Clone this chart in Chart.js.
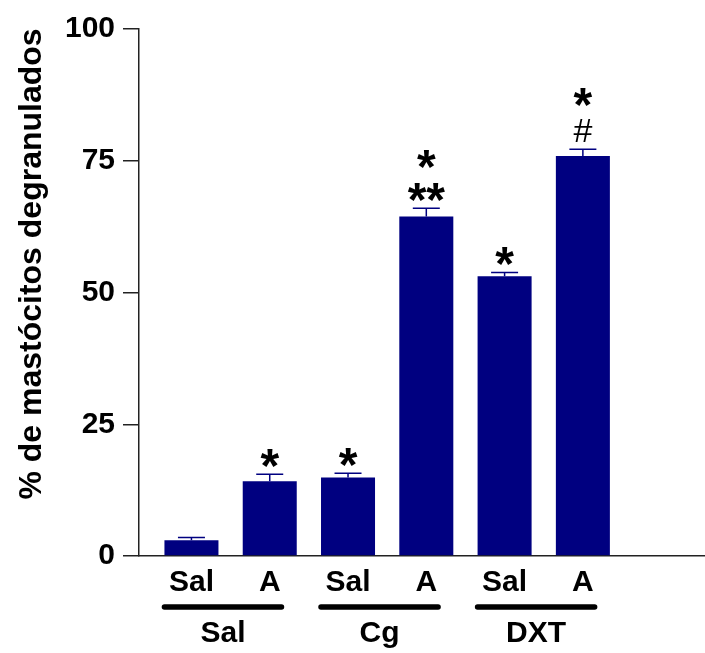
<!DOCTYPE html>
<html>
<head>
<meta charset="utf-8">
<script src="https://cdn.jsdelivr.net/npm/chart.js@4"></script>
<style>
  html, body { margin: 0; padding: 0; background: #fff; }
  canvas { display: block; }
</style>
</head>
<body>
<canvas id="c" width="705" height="653"></canvas>
<script>
// Treatment per bar, grouped under the pretreatment
const categories = ['Sal', 'A', 'Sal', 'A', 'Sal', 'A'];
const groups = ['Sal', 'Cg', 'DXT'];
const groupMembers = [[0, 1], [2, 3], [4, 5]];
// Mean % of degranulated mast cells and SEM
const means = [3.0, 14.2, 14.9, 64.4, 53.1, 75.9];
const sem = [0.5, 1.3, 0.8, 1.6, 0.7, 1.3];
// Significance marks, listed from the bottom up
const marks = [[], ['*'], ['*'], ['**', '*'], ['*'], ['#', '*']];
const yTicks = [0, 25, 50, 75, 100];
const yTitle = '% de mastócitos degranulados';

const FONT = '"Liberation Sans", Arial, Helvetica, sans-serif';
const NAVY = '#000080';
const AXIS = '#222222';

const extras = {
  id: 'extras',
  afterDatasetsDraw(chart) {
    const ctx = chart.ctx;
    const xs = chart.scales.x, ys = chart.scales.y;
    ctx.save();
    // error bars (upper whisker only)
    ctx.strokeStyle = NAVY;
    ctx.lineWidth = 1.5;
    means.forEach((m, i) => {
      const x = xs.getPixelForValue(i);
      const y0 = ys.getPixelForValue(m);
      const y1 = ys.getPixelForValue(m + sem[i]);
      ctx.beginPath();
      ctx.moveTo(x, y0); ctx.lineTo(x, y1);
      ctx.moveTo(x - 13.5, y1); ctx.lineTo(x + 13.5, y1);
      ctx.stroke();
    });
    // significance marks, stacked above the whisker
    ctx.fillStyle = '#000';
    ctx.textAlign = 'center';
    ctx.textBaseline = 'alphabetic';
    marks.forEach((list, i) => {
      const x = xs.getPixelForValue(i);
      const top = ys.getPixelForValue(means[i] + sem[i]);
      let cy = top;
      list.forEach((s, k) => {
        const bold = s !== '#';
        ctx.font = (bold ? 'bold 48px ' : '34px ') + FONT;
        const mt = ctx.measureText(s);
        cy -= (k === 0 ? (bold ? 16 : 19) : 33);
        ctx.fillText(s, x, cy + (mt.actualBoundingBoxAscent - mt.actualBoundingBoxDescent) / 2);
      });
    });
    ctx.restore();
  },
  afterDraw(chart) {
    const ctx = chart.ctx;
    const xs = chart.scales.x;
    ctx.save();
    // group underlines and group names
    ctx.strokeStyle = '#000';
    ctx.lineWidth = 5.5;
    ctx.lineCap = 'round';
    ctx.fillStyle = '#000';
    ctx.font = 'bold 30px ' + FONT;
    ctx.textAlign = 'center';
    ctx.textBaseline = 'middle';
    groupMembers.forEach((mem, g) => {
      const a = xs.getPixelForValue(mem[0] - 0.345);
      const b = xs.getPixelForValue(mem[mem.length - 1] + 0.15);
      ctx.beginPath();
      ctx.moveTo(a, 607); ctx.lineTo(b, 607);
      ctx.stroke();
      ctx.fillText(groups[g], (a + b) / 2, 634);
    });
    // y axis title
    ctx.translate(32, 264);
    ctx.rotate(-Math.PI / 2);
    ctx.font = 'bold 32px ' + FONT;
    ctx.fillText(yTitle, 0, 0);
    ctx.restore();
  }
};

new Chart(document.getElementById('c'), {
  type: 'bar',
  data: {
    datasets: [{
      data: means.map((v, i) => ({ x: i, y: v })),
      backgroundColor: NAVY,
      borderWidth: 0,
      barPercentage: 0.69,
      categoryPercentage: 1.0
    }]
  },
  options: {
    responsive: false,
    animation: false,
    devicePixelRatio: 1,
    layout: { padding: { top: 29, left: 0, right: 0, bottom: 0 } },
    plugins: { legend: { display: false }, tooltip: { enabled: false } },
    scales: {
      x: {
        type: 'linear',
        offset: false,
        min: -0.67,
        max: 6.56,
        afterBuildTicks(s) { s.ticks = categories.map((_, i) => ({ value: i })); },
        afterFit(s) { s.height = 97; },
        ticks: {
          autoSkip: false,
          maxRotation: 0,
          padding: 9,
          color: '#000',
          font: { family: FONT, size: 30, weight: 'bold' },
          callback: (v) => categories[v] ?? ''
        },
        grid: { drawOnChartArea: false, drawTicks: false },
        border: { display: true, color: AXIS, width: 1.5 }
      },
      y: {
        min: 0,
        max: 100,
        afterBuildTicks(s) { s.ticks = yTicks.map(v => ({ value: v })); },
        afterFit(s) { s.width = 139; },
        ticks: {
          padding: 8,
          color: '#000',
          font: { family: FONT, size: 30, weight: 'bold' }
        },
        grid: { drawOnChartArea: false, drawTicks: true, tickLength: 16, color: AXIS, lineWidth: 1.5 },
        border: { display: true, color: AXIS, width: 1.5 }
      }
    }
  },
  plugins: [extras]
});
</script>
</body>
</html>
